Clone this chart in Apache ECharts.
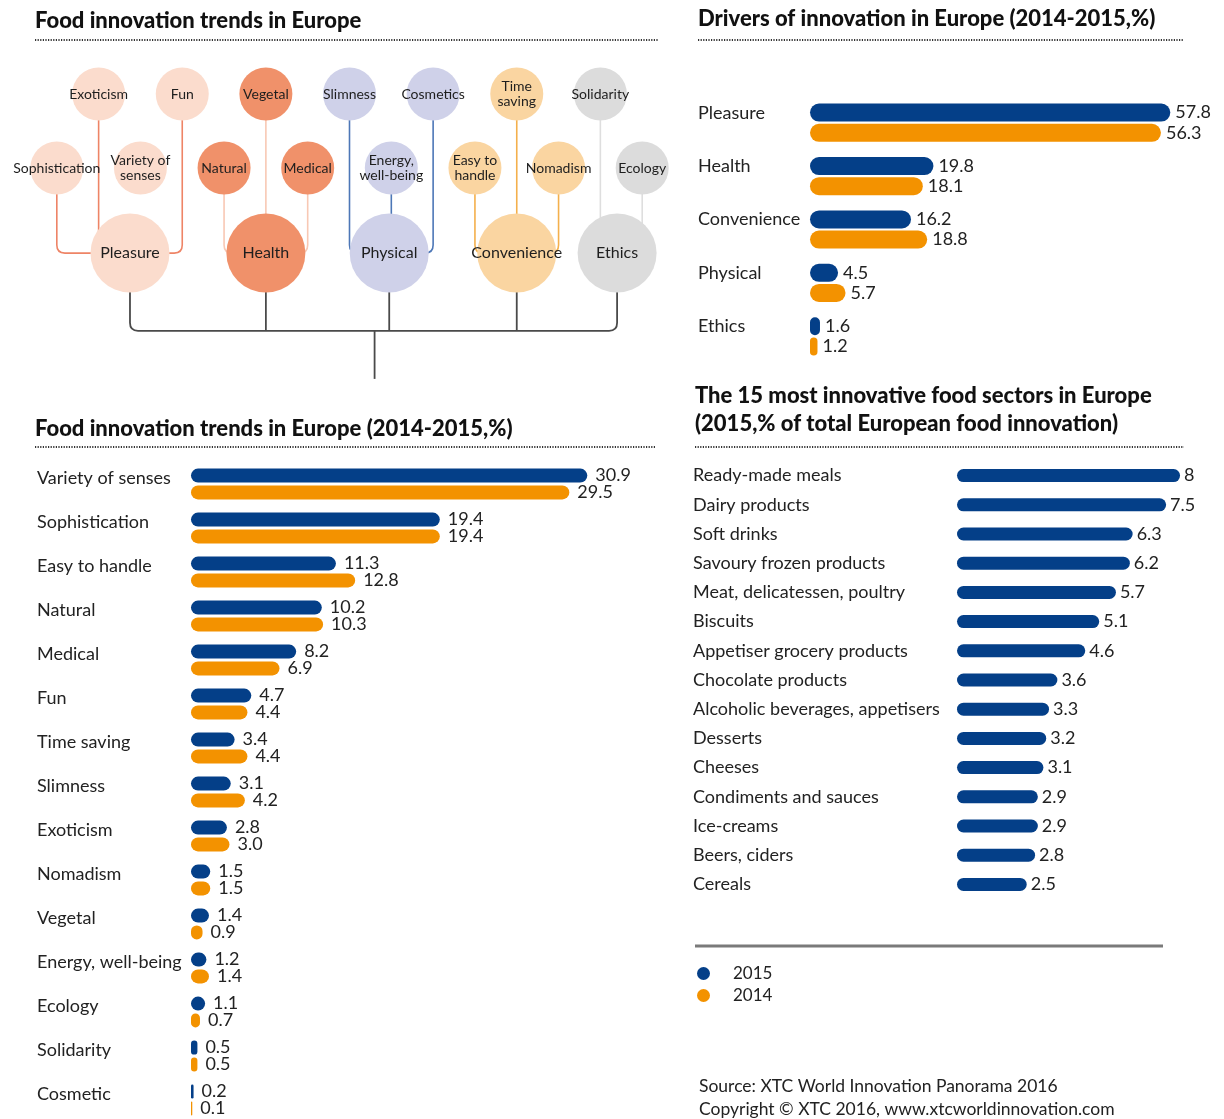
<!DOCTYPE html>
<html><head><meta charset="utf-8">
<script src="https://cdn.jsdelivr.net/npm/echarts@6/dist/echarts.min.js"></script>
<style>html,body{margin:0;padding:0;background:#fff}#c{width:1224px;height:1119px}</style>
</head><body><div id="c"></div>
<script>
// ---------- DATA ----------
const driverCats = ['Pleasure', 'Health', 'Convenience', 'Physical', 'Ethics'];
const driver2015 = [57.8, 19.8, 16.2, 4.5, 1.6];
const driver2014 = [56.3, 18.1, 18.8, 5.7, 1.2];

const trendCats = ['Variety of senses', 'Sophistication', 'Easy to handle', 'Natural', 'Medical', 'Fun', 'Time saving', 'Slimness', 'Exoticism', 'Nomadism', 'Vegetal', 'Energy, well-being', 'Ecology', 'Solidarity', 'Cosmetic'];
const trend2015 = [30.9, 19.4, 11.3, 10.2, 8.2, 4.7, 3.4, 3.1, 2.8, 1.5, 1.4, 1.2, 1.1, 0.5, 0.2];
const trend2014 = [29.5, 19.4, 12.8, 10.3, 6.9, 4.4, 4.4, 4.2, 3.0, 1.5, 0.9, 1.4, 0.7, 0.5, 0.1];

const sectorCats = ['Ready-made meals', 'Dairy products', 'Soft drinks', 'Savoury frozen products', 'Meat, delicatessen, poultry', 'Biscuits', 'Appetiser grocery products', 'Chocolate products', 'Alcoholic beverages, appetisers', 'Desserts', 'Cheeses', 'Condiments and sauces', 'Ice-creams', 'Beers, ciders', 'Cereals'];
const sector2015 = [8, 7.5, 6.3, 6.2, 5.7, 5.1, 4.6, 3.6, 3.3, 3.2, 3.1, 2.9, 2.9, 2.8, 2.5];

const legendNames = ['2015', '2014'];

// tree diagram structure (children in display order, with parent group index)
const treeParents = ['Pleasure', 'Health', 'Physical', 'Convenience', 'Ethics'];
const treeChildren = ['Sophistication', 'Exoticism', 'Variety of senses', 'Fun', 'Natural', 'Vegetal', 'Medical', 'Slimness', 'Energy, well-being', 'Cosmetics', 'Easy to handle', 'Time saving', 'Nomadism', 'Solidarity', 'Ecology'];
const treeChildLabels = ['Sophistication', 'Exoticism', 'Variety of\nsenses', 'Fun', 'Natural', 'Vegetal', 'Medical', 'Slimness', 'Energy,\nwell-being', 'Cosmetics', 'Easy to\nhandle', 'Time\nsaving', 'Nomadism', 'Solidarity', 'Ecology'];
const treeChildGroup = [0, 0, 0, 0, 1, 1, 1, 2, 2, 2, 3, 3, 3, 4, 4];
const treeUnlinked = ['Variety of senses'];

// ---------- LAYOUT / STYLE ----------
const FONT = 'Lato, "Open Sans", sans-serif';
const BLUE = '#043f88', ORANGE = '#f39200', TXT = '#222';
const groupFill = ['#fbdccd', '#f0916a', '#cfd1e9', '#fad5a1', '#dcdcdc'];
const groupLine = ['#ee8466', '#f8c8b4', '#4d77b7', '#f4b04c', '#dedede'];
const TL = { parentSlot: [1.75, 5, 7.95, 11, 13.4], top: 0, mid: 1, parent: 2.15, trunk: 3.2, root: 3.85, rootSlot: 7.6 };

// build tree links
const links = [];
treeChildren.forEach((name, i) => {
  if (treeUnlinked.includes(name)) return;
  const g = treeChildGroup[i];
  const row = i % 2 === 0 ? TL.mid : TL.top;
  const ps = TL.parentSlot[g];
  const pts = Math.abs(i - ps) < 0.85 ? [[i, row], [i, TL.parent]] : [[i, row], [i, TL.parent], [ps, TL.parent]];
  links.push({ pts, color: groupLine[g], width: 1.6 });
});
const ps = TL.parentSlot;
links.push({ pts: [[ps[0], TL.parent], [ps[0], TL.trunk], [ps[4], TL.trunk], [ps[4], TL.parent]], color: '#4a4a4a', width: 1.8 });
for (let g = 1; g < 4; g++) links.push({ pts: [[ps[g], TL.parent], [ps[g], TL.trunk]], color: '#4a4a4a', width: 1.8 });
links.push({ pts: [[TL.rootSlot, TL.trunk], [TL.rootSlot, TL.root]], color: '#4a4a4a', width: 1.8 });

function roundedPath(pts, r) {
  let d = 'M' + pts[0][0] + ' ' + pts[0][1];
  for (let i = 1; i < pts.length - 1; i++) {
    const p0 = pts[i - 1], p1 = pts[i], p2 = pts[i + 1];
    const d1 = Math.hypot(p1[0] - p0[0], p1[1] - p0[1]);
    const d2 = Math.hypot(p2[0] - p1[0], p2[1] - p1[1]);
    const rr = Math.min(r, d1 / 2, d2 / 2);
    const a = [p1[0] - (p1[0] - p0[0]) / d1 * rr, p1[1] - (p1[1] - p0[1]) / d1 * rr];
    const b = [p1[0] + (p2[0] - p1[0]) / d2 * rr, p1[1] + (p2[1] - p1[1]) / d2 * rr];
    d += ' L' + a[0] + ' ' + a[1] + ' Q' + p1[0] + ' ' + p1[1] + ' ' + b[0] + ' ' + b[1];
  }
  const last = pts[pts.length - 1];
  d += ' L' + last[0] + ' ' + last[1];
  return d;
}

const nodeData = [];
treeChildren.forEach((name, i) => {
  const g = treeChildGroup[i];
  nodeData.push({ name, value: [i, i % 2 === 0 ? TL.mid : TL.top], symbolSize: 53,
    itemStyle: { color: groupFill[g], opacity: 1 },
    label: { formatter: treeChildLabels[i], fontSize: 14, lineHeight: 15 } });
});
treeParents.forEach((name, g) => {
  nodeData.push({ name, value: [TL.parentSlot[g], TL.parent], symbolSize: 79,
    itemStyle: { color: groupFill[g], opacity: 1 }, label: { formatter: name, fontSize: 16 } });
});

const titleStyle = { fontFamily: FONT, fontWeight: 900, fontSize: 22, color: '#111' };
const dotted = (x1, x2, y) => ({ type: 'line', shape: { x1, y1: y, x2, y2: y }, style: { stroke: '#333', lineWidth: 2.2, lineDash: [1.2, 1.4] }, silent: true });

const hiddenX = (max) => ({ type: 'value', min: 0, max, show: false, splitLine: { show: false } });
// shift: how many px the label sits above the band centre
const catY = (data, margin, shift) => ({
  type: 'category', data, inverse: true,
  axisLine: { show: false }, axisTick: { show: false }, splitLine: { show: false },
  axisLabel: shift > 0
    ? { align: 'left', margin, verticalAlign: 'bottom', lineHeight: shift * 2, fontFamily: FONT, fontSize: 18, color: TXT }
    : { align: 'left', margin, fontFamily: FONT, fontSize: 18, color: TXT }
});
const barLabel = (dist, fmt) => ({ show: true, position: 'right', distance: dist, fontFamily: FONT, fontSize: 18, color: TXT, formatter: fmt });
const fmt1 = p => p.value.toFixed(1);

const option = {
  animation: false,
  backgroundColor: '#fff',
  textStyle: { fontFamily: FONT },
  title: [
    { text: 'Food innovation trends in Europe', left: 35, top: 10, padding: 0, textStyle: titleStyle },
    { text: 'Drivers of innovation in Europe (2014-2015,%)', left: 698, top: 8, padding: 0, textStyle: titleStyle },
    { text: 'Food innovation trends in Europe (2014-2015,%)', left: 35, top: 418, padding: 0, textStyle: titleStyle },
    { text: 'The 15 most innovative food sectors in Europe\n(2015,% of total European food innovation)', left: 695, top: 382, padding: 0, textStyle: Object.assign({}, titleStyle, { lineHeight: 28 }) }
  ],
  legend: {
    data: legendNames, orient: 'vertical', left: 697, top: 965, padding: 0, itemWidth: 13, itemHeight: 13, itemGap: 5, icon: 'circle',
    textStyle: { fontFamily: FONT, fontSize: 17, color: TXT, padding: [0, 0, 0, 18] }
  },
  graphic: [
    dotted(35, 658, 40), dotted(698, 1184, 40), dotted(35, 655, 447), dotted(695, 1184, 447),
    { type: 'line', shape: { x1: 695, y1: 946, x2: 1163, y2: 946 }, style: { stroke: '#7a7a7a', lineWidth: 3 } },
    { type: 'text', left: 699, top: 1077, style: { text: 'Source: XTC World Innovation Panorama 2016', fontFamily: FONT, fontSize: 17.5, fill: TXT } },
    { type: 'text', left: 699, top: 1100, style: { text: 'Copyright \u00a9 XTC 2016, www.xtcworldinnovation.com', fontFamily: FONT, fontSize: 17.5, fill: TXT } }
  ],
  grid: [
    { left: 15, top: 20, width: 669, height: 370, outerBoundsMode: 'none' },
    { left: 810, top: 96, width: 374, height: 267, outerBoundsMode: 'none' },
    { left: 191, top: 462, width: 513, height: 660, outerBoundsMode: 'none' },
    { left: 957, top: 461, width: 237, height: 438, outerBoundsMode: 'none' }
  ],
  xAxis: [
    { type: 'value', gridIndex: 0, min: -1, max: 15, show: false },
    Object.assign(hiddenX(60), { gridIndex: 1 }),
    Object.assign(hiddenX(40), { gridIndex: 2 }),
    Object.assign(hiddenX(8.5), { gridIndex: 3 })
  ],
  yAxis: [
    { type: 'value', gridIndex: 0, min: -1, max: 4, inverse: true, show: false },
    Object.assign(catY(driverCats, 112, 10), { gridIndex: 1 }),
    Object.assign(catY(trendCats, 154, 6), { gridIndex: 2 }),
    Object.assign(catY(sectorCats, 264, 0), { gridIndex: 3 })
  ],
  series: [
    {
      type: 'custom', xAxisIndex: 0, yAxisIndex: 0, z: 1, silent: true,
      data: links.map(l => l.pts[0]),
      renderItem: (params, api) => {
        const l = links[params.dataIndex];
        const pts = l.pts.map(p => api.coord(p));
        return { type: 'path', shape: { pathData: roundedPath(pts, 8) }, style: { stroke: l.color, lineWidth: l.width, fill: 'none' } };
      }
    },
    {
      type: 'scatter', xAxisIndex: 0, yAxisIndex: 0, z: 3, silent: true, symbol: 'circle',
      data: nodeData,
      itemStyle: { opacity: 1 },
      label: { show: true, position: 'inside', color: '#1e1e1e', fontFamily: FONT }
    },
    { name: '2015', type: 'bar', xAxisIndex: 1, yAxisIndex: 1, data: driver2015, barWidth: 18, barGap: '12%', color: BLUE, itemStyle: { borderRadius: 9 }, label: barLabel(5, fmt1) },
    { name: '2014', type: 'bar', xAxisIndex: 1, yAxisIndex: 1, data: driver2014, barWidth: 18, barGap: '12%', color: ORANGE, itemStyle: { borderRadius: 9 }, label: barLabel(5, fmt1) },
    { name: '2015', type: 'bar', xAxisIndex: 2, yAxisIndex: 2, data: trend2015, barWidth: 14, barGap: '20%', color: BLUE, itemStyle: { borderRadius: 7 }, label: barLabel(8, fmt1) },
    { name: '2014', type: 'bar', xAxisIndex: 2, yAxisIndex: 2, data: trend2014, barWidth: 14, barGap: '20%', color: ORANGE, itemStyle: { borderRadius: 7 }, label: barLabel(8, fmt1) },
    { name: '2015', type: 'bar', xAxisIndex: 3, yAxisIndex: 3, data: sector2015, barWidth: 13, color: BLUE, itemStyle: { borderRadius: 6.5 }, label: barLabel(4, p => String(p.value)) }
  ]
};

const chart = echarts.init(document.getElementById('c'), null, { renderer: 'canvas' });
chart.setOption(option);
</script>
</body></html>
